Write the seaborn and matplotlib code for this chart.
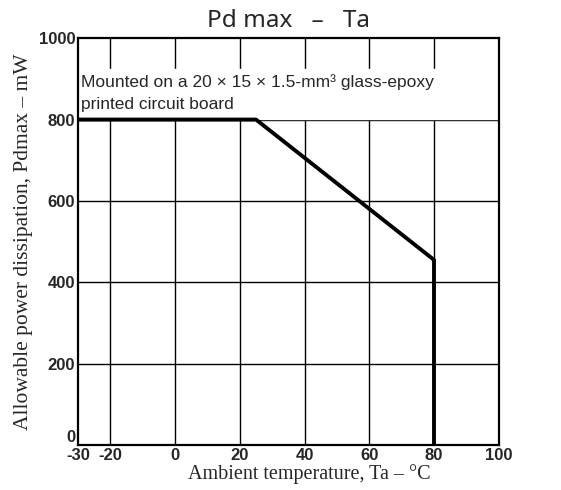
import numpy as np
import pandas as pd
import matplotlib
matplotlib.use("Agg")
import matplotlib.pyplot as plt
import seaborn as sns

# derating curve data
ta = [-30, 25, 80, 80]
pd_max = [800, 800, 455, 0]
xticks = [-30, -20, 0, 20, 40, 60, 80, 100]
yticks = [0, 200, 400, 600, 800, 1000]

sns.set_style("white")
plt.rcParams['font.family'] = ['Liberation Sans', 'DejaVu Sans']

df = pd.DataFrame({'Ta': ta, 'Pd': pd_max})

fig = plt.figure(figsize=(5.61, 4.9), dpi=100)
ax = fig.add_axes([0.139, 0.092, 0.750, 0.830])

sns.lineplot(data=df, x='Ta', y='Pd', sort=False, estimator=None, color='black',
             lw=2.8, ax=ax, zorder=5)

ax.set_xlim(-30, 100)
ax.set_ylim(0, 1000)
ax.set_xticks(xticks)
ax.set_yticks(yticks)
ax.set_xticklabels([str(t) for t in xticks], fontweight='bold', fontsize=12)
ax.set_yticklabels([str(t) for t in yticks], fontweight='bold', fontsize=12)
ax.tick_params(length=0, pad=2)
ax.get_yticklabels()[0].set_verticalalignment('bottom')

# grid
for x in [-20, 0, 20, 40, 60, 80]:
    ax.axvline(x, color='black', lw=1.0, zorder=1)
for y in [200, 400, 600, 800]:
    ax.axhline(y, color='black', lw=1.0, zorder=1)
ax.axhspan(802, 925, color='white', zorder=2)

for s in ax.spines.values():
    s.set_color('black')
    s.set_linewidth(1.6)
    s.set_zorder(6)

ax.text(-29, 865, 'Mounted on a 20 × 15 × 1.5-mm³ glass-epoxy\nprinted circuit board',
        fontsize=12.5, va='center', ha='left', zorder=3, linespacing=1.6)

ax.set_xlabel('Ambient temperature, Ta – °C', family='Liberation Serif', fontsize=14.5, labelpad=1)
ax.xaxis.label.set_x(0.55)
ax.set_ylabel('Allowable power dissipation, Pdmax – mW', family='Liberation Serif', fontsize=15.5, labelpad=4)
ax.set_title('Pd max   –   Ta', fontsize=17.5, family='Noto Sans', pad=8)

fig.savefig('out.png', dpi=100)
